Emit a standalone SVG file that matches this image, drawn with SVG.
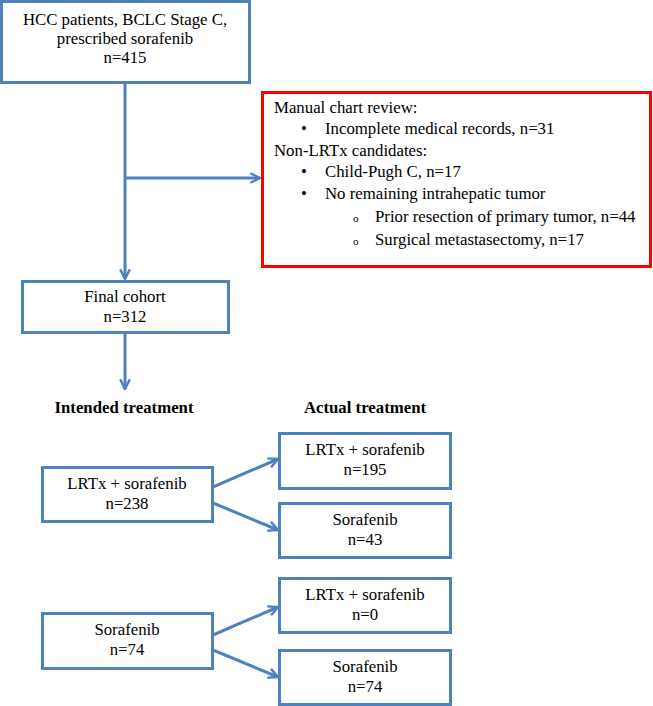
<svg xmlns="http://www.w3.org/2000/svg" width="653" height="706" viewBox="0 0 653 706">
<style>
.box{fill:#fff;stroke:#4F81BD;stroke-width:3}
.red{fill:#fff;stroke:#FF0000;stroke-width:3}
text{font-family:"Liberation Serif","Times New Roman",serif;font-size:16.8px;fill:#000}
.c{text-anchor:middle}
.b{font-weight:bold}
.sub{font-size:11px}
.conn line{stroke:#4F81BD;stroke-width:3;fill:none}
</style>
<defs>
<marker id="arr" viewBox="0 0 10 10" refX="9" refY="5" markerWidth="4" markerHeight="4" orient="auto" markerUnits="strokeWidth">
<polyline points="1,1 9,5 1,9" fill="none" stroke="#4F81BD" stroke-width="2"/>
</marker>
</defs>
<rect width="653" height="706" fill="#fff"/>
<g class="conn">
<line x1="125" y1="83" x2="125" y2="279" marker-end="url(#arr)"/>
<line x1="125" y1="178" x2="260" y2="178" marker-end="url(#arr)"/>
<line x1="125" y1="333" x2="125" y2="389" marker-end="url(#arr)"/>
<line x1="213" y1="487" x2="278" y2="459" marker-end="url(#arr)"/>
<line x1="213" y1="503" x2="278" y2="530" marker-end="url(#arr)"/>
<line x1="213" y1="635" x2="278" y2="607" marker-end="url(#arr)"/>
<line x1="213" y1="650" x2="278" y2="677" marker-end="url(#arr)"/>
</g>
<g id="n-start">
<rect class="box" x="1.5" y="1.5" width="248" height="81"/>
<text class="c" x="125" y="25">HCC patients, BCLC Stage C,</text>
<text class="c" x="125" y="44">prescribed sorafenib</text>
<text class="c" x="125" y="63">n=415</text>
</g>
<g id="n-excl">
<rect class="red" x="262.5" y="92.5" width="388" height="174"/>
<text x="274" y="113">Manual chart review:</text>
<text x="301" y="134">•</text>
<text x="325" y="134">Incomplete medical records, n=31</text>
<text x="274" y="156">Non-LRTx candidates:</text>
<text x="301" y="177">•</text>
<text x="325" y="177">Child-Pugh C, n=17</text>
<text x="301" y="199">•</text>
<text x="325" y="199">No remaining intrahepatic tumor</text>
<text class="sub" x="353" y="222">o</text>
<text x="375" y="222">Prior resection of primary tumor, n=44</text>
<text class="sub" x="353" y="245">o</text>
<text x="375" y="245">Surgical metastasectomy, n=17</text>
</g>
<g id="n-final">
<rect class="box" x="22.5" y="281.5" width="206" height="51"/>
<text class="c" x="125" y="302">Final cohort</text>
<text class="c" x="125" y="322">n=312</text>
</g>
<g id="h-intended"><text class="c b" x="124" y="413">Intended treatment</text></g>
<g id="h-actual"><text class="c b" x="365" y="413">Actual treatment</text></g>
<g id="n-int-lrtx">
<rect class="box" x="42.5" y="467.5" width="170" height="54"/>
<text class="c" x="127" y="489">LRTx + sorafenib</text>
<text class="c" x="127" y="509">n=238</text>
</g>
<g id="n-int-sora">
<rect class="box" x="42.5" y="613.5" width="170" height="55"/>
<text class="c" x="127" y="635">Sorafenib</text>
<text class="c" x="127" y="655">n=74</text>
</g>
<g id="n-act1">
<rect class="box" x="279.5" y="433.5" width="171" height="55"/>
<text class="c" x="365" y="455">LRTx + sorafenib</text>
<text class="c" x="365" y="475">n=195</text>
</g>
<g id="n-act2">
<rect class="box" x="279.5" y="503.5" width="171" height="54"/>
<text class="c" x="365" y="525">Sorafenib</text>
<text class="c" x="365" y="545">n=43</text>
</g>
<g id="n-act3">
<rect class="box" x="279.5" y="578.5" width="171" height="54"/>
<text class="c" x="365" y="600">LRTx + sorafenib</text>
<text class="c" x="365" y="620">n=0</text>
</g>
<g id="n-act4">
<rect class="box" x="279.5" y="650.5" width="171" height="54"/>
<text class="c" x="365" y="672">Sorafenib</text>
<text class="c" x="365" y="692">n=74</text>
</g>
</svg>
